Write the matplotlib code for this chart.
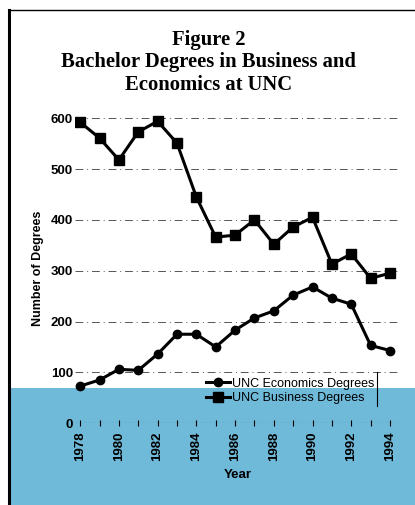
import matplotlib.pyplot as plt
from matplotlib.lines import Line2D
from matplotlib.patches import Rectangle

years = list(range(1978, 1995))
business = [592, 561, 518, 573, 594, 551, 445, 366, 370, 400, 352, 386, 405, 313, 333, 285, 295]
economics = [73, 85, 106, 104, 136, 175, 175, 150, 183, 207, 221, 252, 268, 246, 234, 153, 143]
y_ticks = [0, 100, 200, 300, 400, 500, 600]

plt.rcParams['font.family'] = ['Liberation Sans', 'DejaVu Sans']

fig = plt.figure(figsize=(4.15, 5.05), dpi=100)

# light blue band along the bottom of the scan (behind everything)
band = Rectangle((10 / 415, 0), 1, 117 / 505, transform=fig.transFigure,
                 facecolor='#6fb9d9', edgecolor='none', zorder=-10)
fig.add_artist(band)
# frame lines of the scanned page
fig.add_artist(Line2D([9 / 415, 9 / 415], [0, 495 / 505], color='black', lw=2.2))
fig.add_artist(Line2D([9 / 415, 1], [495 / 505, 495 / 505], color='black', lw=1.0))
# right edge of the legend box
fig.add_artist(Line2D([377 / 415, 377 / 415], [1 - 406 / 505, 1 - 372 / 505],
                      color='black', lw=0.8))

title_kw = dict(ha='center', va='center', fontsize=14.9, fontweight='bold',
                family='Liberation Serif')
fig.text(0.502, 0.921, 'Figure 2', **title_kw)
fig.text(0.502, 0.877, 'Bachelor Degrees in Business and', **title_kw)
fig.text(0.502, 0.832, 'Economics at UNC', **title_kw)

ax = fig.add_axes([0.181, 0.162, 0.783, 0.614])
ax.patch.set_alpha(0)
ax.set_xlim(1977.74, 1994.52)
ax.set_ylim(0, 610)

for v in y_ticks[1:]:
    ax.axhline(v, color='#555555', lw=0.7, ls=(0, (8, 4, 1, 4)), zorder=1)
ax.axhline(0, color='#333333', lw=0.8, ls=(0, (2, 2)), zorder=1)

ax.plot(years, economics, color='black', lw=2.2, marker='o', ms=6,
        label='UNC Economics Degrees', zorder=3)
ax.plot(years, business, color='black', lw=2.2, marker='s', ms=6.5,
        label='UNC Business Degrees', zorder=3)

for s in ax.spines.values():
    s.set_visible(False)

ax.set_yticks(y_ticks)
ax.set_yticklabels([str(v) for v in y_ticks], fontsize=9.5, fontweight='bold')
ax.tick_params(axis='y', length=0, pad=1.5)
ax.set_xticks(years)
ax.set_xticklabels([str(y) if y % 2 == 0 else '' for y in years],
                   rotation=90, fontsize=9.5, fontweight='bold')
ax.tick_params(axis='x', length=4, direction='inout', width=0.8, pad=4)

ax.set_xlabel('Year', fontsize=9.5, fontweight='bold', labelpad=6)
ax.set_ylabel('Number of Degrees', fontsize=9, fontweight='bold', labelpad=5)

ax.legend(loc='upper left', bbox_to_anchor=(197 / 415, 1 - 369 / 505),
          bbox_transform=fig.transFigure, frameon=False,
          prop={'size': 9, 'weight': 'medium'},
          handlelength=1.9, handletextpad=0.2, labelspacing=0.2,
          borderpad=0.2)

fig.savefig('out.png', dpi=100)
